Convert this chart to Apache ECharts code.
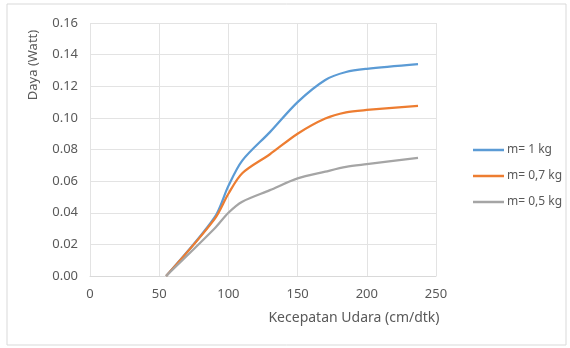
<!DOCTYPE html>
<html>
<head>
<meta charset="utf-8">
<script src="https://cdn.jsdelivr.net/npm/echarts@6/dist/echarts.min.js"></script>
<style>
  html, body { margin: 0; padding: 0; background: #fff; }
  #chart { width: 570px; height: 348px; }
</style>
</head>
<body>
<div id="chart"></div>
<script>
// kecepatan udara (cm/dtk)
const speed = [55, 90, 100, 110, 130, 150, 170, 185, 200, 237];
// daya (Watt) per beban
const m1 = [0, 0.037, 0.057, 0.073, 0.091, 0.110, 0.124, 0.129, 0.131, 0.134];
const m07 = [0, 0.036, 0.052, 0.065, 0.077, 0.090, 0.0996, 0.1035, 0.105, 0.1076];
const m05 = [0, 0.030, 0.040, 0.047, 0.0543, 0.0617, 0.066, 0.069, 0.0707, 0.0747];
const seriesNames = ["m= 1 kg", "m= 0,7 kg", "m= 0,5 kg"];
const colors = ["#5B9BD5", "#ED7D31", "#A5A5A5"];

const font = "'Noto Sans', sans-serif";
const textColor = "#595959";

function pairs(ys) {
  return speed.map((x, i) => [x, ys[i]]);
}

const chart = echarts.init(document.getElementById("chart"));

chart.setOption({
  animation: false,
  color: colors,
  textStyle: { fontFamily: font },
  grid: {
    left: 90,
    right: 134,
    top: 23,
    bottom: 72,
  },
  graphic: [
    {
      type: "rect",
      shape: { x: 7, y: 4, width: 559, height: 341 },
      style: { fill: "none", stroke: "#d9d9d9", lineWidth: 1 },
      silent: true,
    },
    {
      type: "text",
      x: 354,
      y: 318,
      style: {
        text: "Kecepatan Udara (cm/dtk)",
        fill: textColor,
        font: "14px " + font,
        textAlign: "center",
        textVerticalAlign: "middle",
      },
    },
    {
      type: "text",
      x: 33,
      y: 65,
      rotation: Math.PI / 2,
      style: {
        text: "Daya (Watt)",
        fill: textColor,
        font: "13px " + font,
        textAlign: "center",
        textVerticalAlign: "middle",
      },
    },
  ],
  legend: {
    orient: "vertical",
    left: 468,
    top: 139,
    icon: "rect",
    itemWidth: 31,
    itemHeight: 2.5,
    itemGap: 14,
    textStyle: { color: textColor, fontSize: 12, fontFamily: font, padding: [0, 0, 0, -2] },
    data: seriesNames,
  },
  xAxis: {
    type: "value",
    min: 0,
    max: 250,
    interval: 50,
    axisLine: { show: true, lineStyle: { color: "#d9d9d9" } },
    axisTick: { show: false },
    axisLabel: { color: textColor, fontSize: 13, margin: 12 },
    splitLine: { show: true, lineStyle: { color: "#e3e3e3" } },
  },
  yAxis: {
    type: "value",
    min: 0,
    max: 0.16,
    interval: 0.02,
    axisLine: { show: false },
    axisTick: { show: false },
    axisLabel: {
      color: textColor,
      fontSize: 13,
      margin: 12,
      formatter: (v) => v.toFixed(2),
    },
    splitLine: { show: true, lineStyle: { color: "#e3e3e3" } },
  },
  series: [
    { name: seriesNames[0], type: "line", data: pairs(m1) },
    { name: seriesNames[1], type: "line", data: pairs(m07) },
    { name: seriesNames[2], type: "line", data: pairs(m05) },
  ].map((s) => ({
    ...s,
    smooth: 0.3,
    symbol: "none",
    lineStyle: { width: 2.25 },
  })),
});
</script>
</body>
</html>
